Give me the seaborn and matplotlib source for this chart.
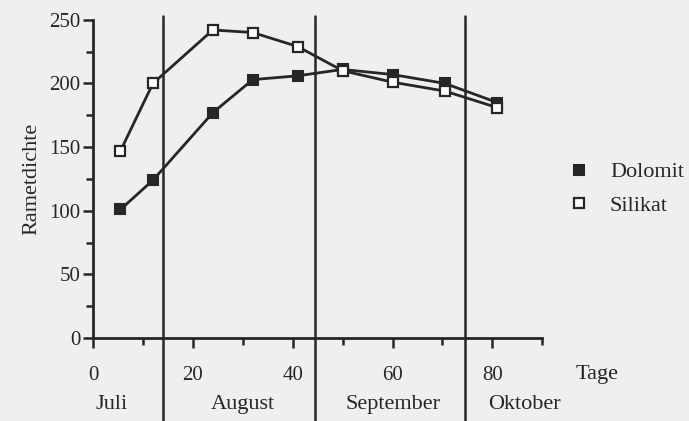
import seaborn as sns
import pandas as pd
import matplotlib.pyplot as plt
from matplotlib.lines import Line2D
from matplotlib.ticker import MultipleLocator
import matplotlib.transforms as mtransforms

# data
tage = [5.5, 12, 24, 32, 41, 50, 60, 70.5, 81]
dolomit = [101, 124, 177, 203, 206, 211, 207, 200, 185]
silikat = [147, 200, 242, 240, 229, 210, 201, 194, 181]
monatsgrenzen = [14, 44.5, 74.5]
monate = ['Juli', 'August', 'September', 'Oktober']
monat_x = [3.8, 30, 60.2, 86.4]

df = pd.DataFrame({'Tage': tage + tage,
                   'Rametdichte': dolomit + silikat,
                   'Boden': ['Dolomit'] * len(tage) + ['Silikat'] * len(tage)})

sns.set_theme(style='ticks')
plt.rcParams['font.family'] = ['Liberation Serif', 'DejaVu Serif']
bg = '#efefef'
ink = '#262626'

fig = plt.figure(figsize=(6.89, 4.21), dpi=100, facecolor=bg)
ax = fig.add_axes([0.135, 0.197, 0.652, 0.756])
ax.set_facecolor(bg)

sns.lineplot(data=df[df.Boden == 'Dolomit'], x='Tage', y='Rametdichte', ax=ax,
             color=ink, lw=2, marker='s', markersize=6.5, markerfacecolor=ink,
             markeredgecolor=ink, markeredgewidth=1.5)
sns.lineplot(data=df[df.Boden == 'Silikat'], x='Tage', y='Rametdichte', ax=ax,
             color=ink, lw=2, marker='s', markersize=6.5, markerfacecolor='white',
             markeredgecolor=ink, markeredgewidth=1.6)

ax.set_xlim(0, 90)
ax.set_ylim(0, 250)
sns.despine(ax=ax)
for s in ['left', 'bottom']:
    ax.spines[s].set_linewidth(2)
    ax.spines[s].set_color(ink)

ax.xaxis.set_major_locator(MultipleLocator(20))
ax.xaxis.set_minor_locator(MultipleLocator(10))
ax.yaxis.set_major_locator(MultipleLocator(50))
ax.yaxis.set_minor_locator(MultipleLocator(25))
ax.tick_params(which='major', length=7, width=1.8, color=ink, labelsize=15,
               labelcolor=ink, direction='out')
ax.tick_params(which='minor', length=5, width=1.8, color=ink, direction='out')
ax.tick_params(axis='x', pad=13)
ax.tick_params(axis='y', pad=2)
ax.set_xticks([0, 20, 40, 60, 80])

ax.set_xlabel('')
ax.set_ylabel('Rametdichte', fontsize=16, color=ink, labelpad=6)

for g in monatsgrenzen:
    ax.axvline(g, ymin=-0.27, ymax=1.012, color=ink, lw=1.8, clip_on=False)

trans = mtransforms.blended_transform_factory(ax.transData, ax.transAxes)
for m, mx in zip(monate, monat_x):
    ax.text(mx, -0.21, m, transform=trans, ha='center', va='center',
            fontsize=16, color=ink, clip_on=False)
ax.text(101, -0.115, 'Tage', transform=trans, ha='center', va='center',
        fontsize=16, color=ink, clip_on=False)

handles = [Line2D([], [], ls='', marker='s', markersize=6.5, color=ink,
                  markerfacecolor=ink, markeredgewidth=1.5),
           Line2D([], [], ls='', marker='s', markersize=6.5, color=ink,
                  markerfacecolor='white', markeredgewidth=1.6)]
fig.legend(handles, ['Dolomit', 'Silikat'], loc='center left',
           bbox_to_anchor=(0.795, 0.551), frameon=False, fontsize=16,
           handlelength=1, handletextpad=0.9, labelspacing=0.6,
           labelcolor=ink)

fig.savefig('out.png', dpi=100, facecolor=bg)
